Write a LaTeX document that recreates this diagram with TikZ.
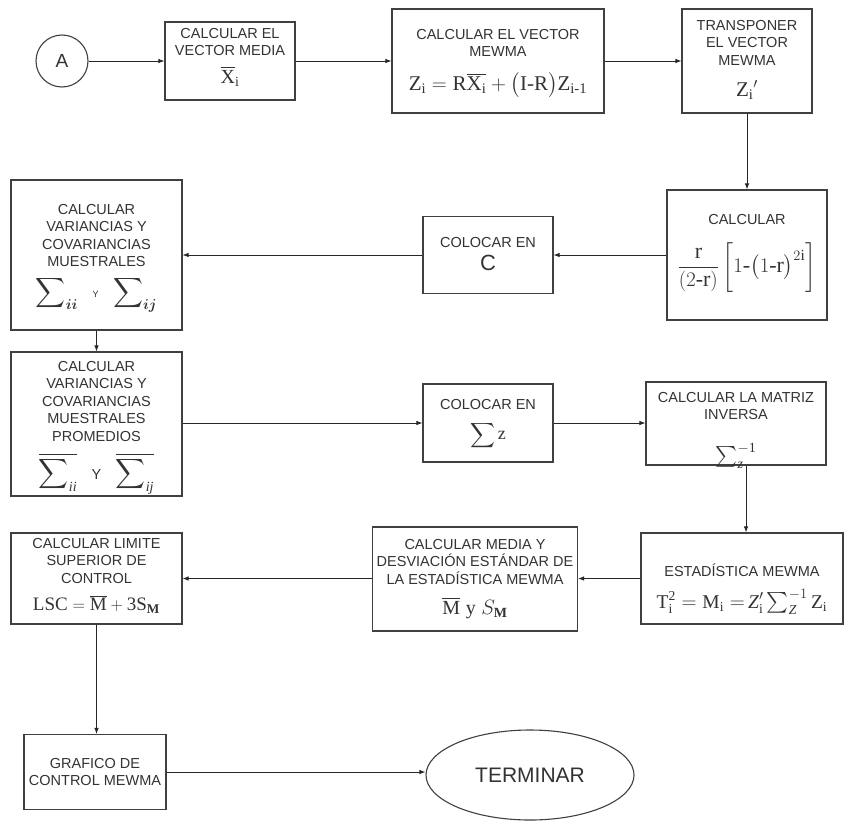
\documentclass[tikz,border=0pt]{standalone}
\usepackage{amsmath}
\usepackage{fontspec}
\setmainfont{Liberation Sans}
\setmathrm{Liberation Serif}
\newfontfamily\tnr{Liberation Serif}
\usetikzlibrary{arrows.meta,shapes.geometric}
\newcommand{\hy}{\text{\tnr -}}
\newcommand{\fsz}[1]{\fontsize{#1}{#1}\selectfont}
\tikzset{
  box/.style={draw=black!75, line width=1.1pt, inner sep=2pt, align=center,
    font=\fontsize{14.5}{17.5}\selectfont, text=black!80},
  txt/.style={inner sep=0pt, align=center, font=\fontsize{14.5}{17.5}\selectfont, text=black!80},
  arr/.style={-{Latex[length=6pt,width=4.5pt]}, line width=0.9pt, draw=black!85}
}
\begin{document}
\begin{tikzpicture}[x=1pt,y=-1pt]
\useasboundingbox[fill=white] (0,0) rectangle (845,824);

\node[draw=black!75, line width=1.1pt, circle, minimum size=52pt, inner sep=0pt,
  font=\fontsize{19}{22}\selectfont, text=black!80] (A) at (62,61) {A};

\node[box, minimum width=130pt, minimum height=78pt] (b1) at (230,61) {};
\node[txt, anchor=north] (b1t) at (230,28)
  {CALCULAR EL\\VECTOR MEDIA\\[10pt] {\fsz{20}$\overline{\mathrm{X}}_{\mathrm{i}}$}};

\node[box, minimum width=212pt, minimum height=104pt] (b2) at (498,61) {};
\node[txt, anchor=north] (b2t) at (498,29)
  {CALCULAR EL VECTOR\\MEWMA\\[15pt]
   {\fsz{21}$\mathrm{Z_i = R\overline{X_i} + \bigl(I\hy R\bigr) Z_{i\hy 1}}$}};

\node[box, minimum width=130pt, minimum height=104pt] (b3) at (747,61) {};
\node[txt, anchor=north] (b3t) at (747,20)
  {TRANSPONER\\EL VECTOR\\MEWMA\\[14pt] {\fsz{21}$\mathrm{Z_i}^{\prime}$}};

\node[box, minimum width=160pt, minimum height=130pt] (b4) at (747,255) {};
\node[txt, anchor=north] (b4t) at (747,214)
  {CALCULAR\\[17pt]
   {\fsz{22}$\dfrac{\mathrm{r}}{(2\hy\mathrm{r})}\left[\vphantom{\dfrac{\mathrm{r}}{(2\hy\mathrm{r})}}1\hy\bigl(1\hy\mathrm{r}\bigr)^{2\mathrm{i}}\right]$}};

\node[box, minimum width=130pt, minimum height=77pt] (b5) at (488,255) {};
\node[txt, anchor=north] (b5t) at (488,237)
  {COLOCAR EN\\[6pt] {\fsz{22}C}};

\node[box, minimum width=171pt, minimum height=150pt] (b6) at (96.5,255) {};
\node[txt, anchor=north] (b6t) at (96.5,204)
  {CALCULAR\\VARIANCIAS Y\\COVARIANCIAS\\MUESTRALES\\[8pt]
   {\fsz{20}$\displaystyle\sum\nolimits_{\boldsymbol{ii}}$}\quad{\fsz{9}Y}\quad{\fsz{20}$\displaystyle\sum\nolimits_{\boldsymbol{ij}}$}};

\node[box, minimum width=171pt, minimum height=144pt] (b7) at (96.5,424) {};
\node[txt, anchor=north] (b7t) at (96.5,361)
  {CALCULAR\\VARIANCIAS Y\\COVARIANCIAS\\MUESTRALES\\PROMEDIOS\\[11pt]
   {\fsz{20}$\overline{\displaystyle\sum\nolimits_{\mathit{ii}}}$}\quad Y\quad {\fsz{20}$\overline{\displaystyle\sum\nolimits_{\mathit{ij}}}$}};

\node[box, minimum width=130pt, minimum height=78pt] (b8) at (488,423) {};
\node[txt, anchor=north] (b8t) at (488,399)
  {COLOCAR EN\\[11pt] {\fsz{18}$\displaystyle\sum \mathrm{z}$}};

\node[box, minimum width=180pt, minimum height=83pt] (b9) at (736,423.5) {};
\node[txt, anchor=north] (b9t) at (736,392)
  {CALCULAR LA MATRIZ\\INVERSA\\[22pt] {\fsz{20}$\sum\nolimits_{\mathit{z}}^{\mathrm{-1}}$}};

\node[box, minimum width=202pt, minimum height=91pt] (b10) at (742,578.5) {};
\node[txt, anchor=north] (b10t) at (742,564)
  {ESTADÍSTICA MEWMA\\[11pt]
   {\fsz{19.5}$\mathrm{T_i^2 = M_i = }\,\mathit{Z}_{\mathrm{i}}'\sum\nolimits_{\mathit{Z}}^{-1}\mathrm{Z_i}$}};

\node[box, minimum width=205pt, minimum height=104pt] (b11) at (475,579) {};
\node[txt, anchor=north] (b11t) at (475,539)
  {CALCULAR MEDIA Y\\DESVIACIÓN ESTÁNDAR DE\\LA ESTADÍSTICA MEWMA\\[13pt]
   {\fsz{20}$\overline{\mathrm{M}}\ \mathrm{y}\ S_{\mathbf{M}}$}};

\node[box, minimum width=171pt, minimum height=91pt] (b12) at (96.5,578.5) {};
\node[txt, anchor=north] (b12t) at (96.5,538)
  {CALCULAR LIMITE\\SUPERIOR DE\\CONTROL\\[10pt]
   {\fsz{19}$\mathrm{LSC = \overline{M} + 3S_{\mathbf{M}}}$}};

\node[box, minimum width=142pt, minimum height=75pt] (b13) at (95,772)
  {GRAFICO DE\\CONTROL MEWMA};

\node[draw=black!75, line width=1.1pt, ellipse, minimum width=208pt, minimum height=90pt,
  inner sep=0pt, font=\fontsize{21}{24}\selectfont, text=black!80] (end) at (530,775) {TERMINAR};

\draw[arr] (A.east) -- (b1.west);
\draw[arr] (b1.east) -- (b2.west);
\draw[arr] (b2.east) -- (b3.west);
\draw[arr] (b3.south) -- (b4.north);
\draw[arr] (b4.west) -- (b5.east);
\draw[arr] (b5.west) -- (b6.east);
\draw[arr] (b6.south) -- (b7.north);
\draw[arr] (b7.east |- b8.west) -- (b8.west);
\draw[arr] (b8.east) -- (b9.west |- b8.east);
\draw[arr] ([xshift=10pt]b9.south) -- ([xshift=10pt]b9.south |- b10.north);
\draw[arr] (b10.west) -- (b11.east |- b10.west);
\draw[arr] (b11.west |- b12.east) -- (b12.east);
\draw[arr] (b12.south) -- (b12.south |- b13.north);
\draw[arr] (b13.east) -- (b13.east -| end.west);
\end{tikzpicture}
\end{document}
